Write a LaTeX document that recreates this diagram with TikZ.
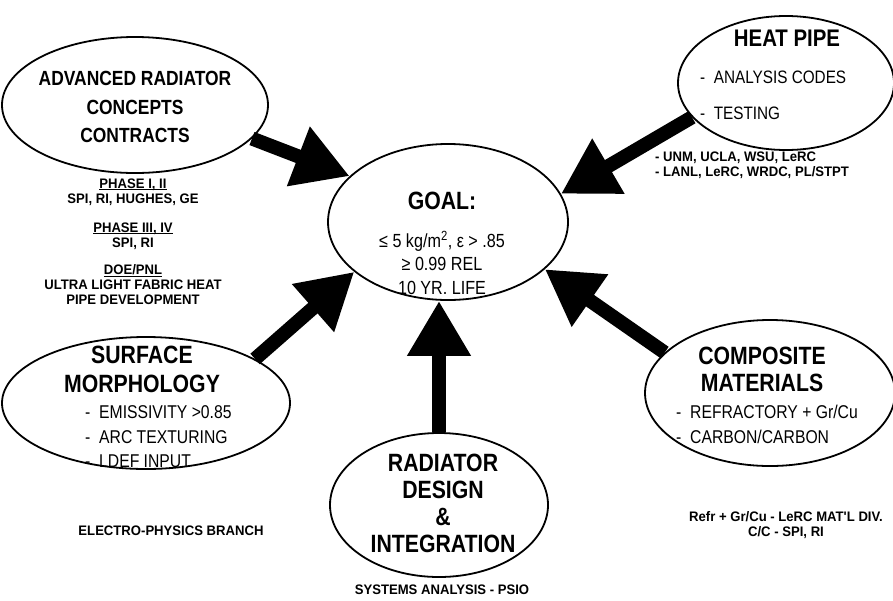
\documentclass[tikz,border=0pt]{standalone}
\usepackage{fontspec}
\setmainfont{Liberation Sans}[FakeStretch=0.85]
\newfontfamily\lblfont{Liberation Sans}[FakeStretch=0.95]
\newcommand{\ulbl}[1]{{\setbox0\hbox{#1}\rlap{\rule[-1.6pt]{\wd0}{0.9pt}}\box0}}
\usetikzlibrary{arrows.meta,shapes.geometric}
\begin{document}
\begin{tikzpicture}[x=1pt,y=-1pt,
  oval/.style={draw,ellipse,line width=1.8pt,inner sep=0pt},
  bigarrow/.style={line width=14pt,-{Triangle[length=55pt,width=60pt]}},
  txt/.style={align=center,inner sep=0pt},
  item/.style={anchor=west,inner sep=0pt,font=\fontsize{#1}{#1}\selectfont},
  lbl/.style={align=center,inner sep=0pt,font=\lblfont\fontsize{13.8}{15}\selectfont\bfseries},
]
\useasboundingbox[fill=white] (0,0) rectangle (893,600);

% ellipses
\node[oval,minimum width=266pt,minimum height=136pt] (adv) at (135,105) {};
\node[oval,minimum width=216pt,minimum height=134pt] (heat) at (786,83) {};
\node[oval,minimum width=240pt,minimum height=156pt] (goal) at (448,222) {};
\node[oval,minimum width=288pt,minimum height=132pt] (surf) at (146,403) {};
\node[oval,minimum width=218pt,minimum height=144pt] (rad) at (439,505) {};
\node[oval,minimum width=250pt,minimum height=146pt] (comp) at (770,393) {};

% arrows
\draw[bigarrow] (adv.-16) -- (goal.155);
\draw[bigarrow] (heat.200) -- (goal.14);
\draw[bigarrow] (surf.22) -- (goal.208);
\draw[bigarrow] (rad.90) -- (rad.90 |- goal.270);
\draw[bigarrow] (comp.159) -- (goal.-26);

% advanced radiator
\node[txt,font=\fontsize{20.5}{28.5}\selectfont\bfseries] (advt) at (135,107) {ADVANCED RADIATOR\\CONCEPTS\\CONTRACTS};
\node[lbl] (ph1) at (133,192) {\ulbl{PHASE I, II}\\SPI, RI, HUGHES, GE};
\node[lbl] (ph3) at (133,236) {\ulbl{PHASE III, IV}\\SPI, RI};
\node[lbl] (doe) at (133,285) {\ulbl{DOE/PNL}\\ULTRA LIGHT FABRIC HEAT\\PIPE DEVELOPMENT};

% heat pipe
\node[txt,font=\fontsize{24}{24}\selectfont\bfseries] (heatt) at (787,38) {HEAT PIPE};
\node[item=18] (hp1) at (700,77) {-\ \ ANALYSIS CODES};
\node[item=18] (hp2) at (700,113) {-\ \ TESTING};
\node[lbl,anchor=west,align=left] (hpl) at (655,165) {-\ UNM, UCLA, WSU, LeRC\\-\ LANL, LeRC, WRDC, PL/STPT};

% goal
\node[txt,font=\fontsize{25}{25}\selectfont\bfseries] (goalt) at (442,201) {GOAL:};
\node[txt,font=\fontsize{19}{23.5}\selectfont] (goalv) at (442,263)
  {≤ 5 kg/m\textsuperscript{2}, ε > .85\\≥ 0.99 REL\\10 YR. LIFE};

% surface
\node[txt,font=\fontsize{25}{29}\selectfont\bfseries] (surft) at (142,369) {SURFACE\\MORPHOLOGY};
\node[item=18.5] (sf1) at (85,412) {-\ \ EMISSIVITY >0.85};
\node[item=18.5] (sf2) at (85,437) {-\ \ ARC TEXTURING};
\node[item=18.5] (sf3) at (85,461) {-\ \ LDEF INPUT};
\node[lbl] (elec) at (171,531) {ELECTRO-PHYSICS BRANCH};

% radiator design
\node[txt,font=\fontsize{25}{27}\selectfont\bfseries] (radt) at (443,503) {RADIATOR\\DESIGN\\\&\\INTEGRATION};
\node[lbl] (sys) at (442,590) {SYSTEMS ANALYSIS - PSIO};

% composite
\node[txt,font=\fontsize{25}{27}\selectfont\bfseries] (compt) at (762,369) {COMPOSITE\\MATERIALS};
\node[item=18.5] (cm1) at (676,412) {-\ \ REFRACTORY + Gr/Cu};
\node[item=18.5] (cm2) at (676,437) {-\ \ CARBON/CARBON};
\node[lbl] (refr) at (786,525) {Refr + Gr/Cu - LeRC MAT'L DIV.\\C/C - SPI, RI};
\end{tikzpicture}
\end{document}
